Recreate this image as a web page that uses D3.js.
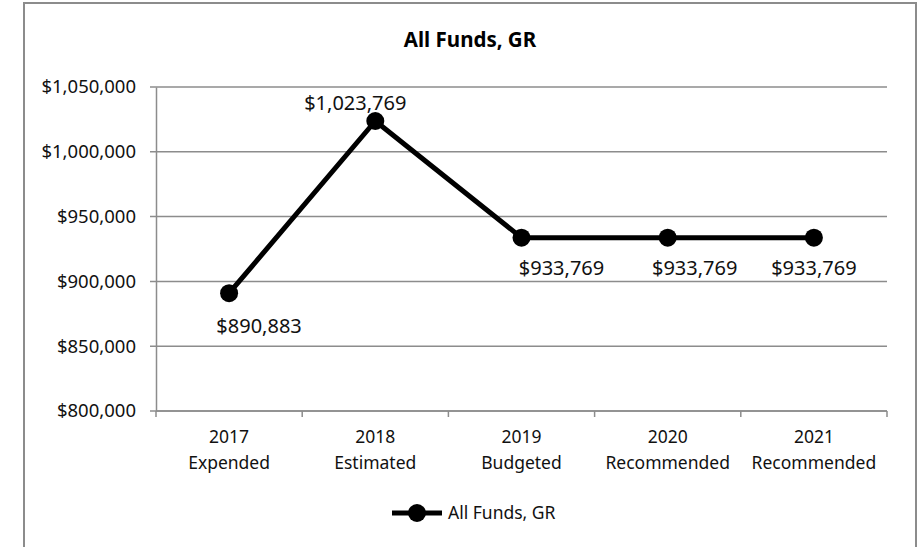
<!DOCTYPE html>
<html>
<head>
<meta charset="utf-8">
<script src="https://cdn.jsdelivr.net/npm/d3@7"></script>
<style>
  body { margin: 0; background: #fff; }
  svg { display: block; font-family: "Noto Sans", "Open Sans", sans-serif; }
</style>
</head>
<body>
<svg id="chart" width="924" height="547"></svg>
<script>
const years = ["2017", "2018", "2019", "2020", "2021"];
const stages = ["Expended", "Estimated", "Budgeted", "Recommended", "Recommended"];
const values = [890883, 1023769, 933769, 933769, 933769];
const yTicks = [800000, 850000, 900000, 950000, 1000000, 1050000];
const seriesName = "All Funds, GR";

const svg = d3.select("#chart");
const margin = { left: 156, right: 887, top: 87, bottom: 411 };

// outer chart border (bottom runs off the picture)
svg.append("rect")
  .attr("x", 24).attr("y", 3)
  .attr("width", 892).attr("height", 570)
  .attr("fill", "none")
  .attr("stroke", "#8c8c8c")
  .attr("stroke-width", 2);

svg.append("text")
  .attr("x", 470).attr("y", 47)
  .attr("text-anchor", "middle")
  .style("font-size", "20.5px")
  .style("font-weight", "bold")
  .text(seriesName);

const x = d3.scaleBand().domain(d3.range(years.length)).range([margin.left, margin.right]);
const y = d3.scaleLinear().domain([800000, 1050000]).range([margin.bottom, margin.top]);
const fmt = d3.format("$,");

// gridlines
svg.append("g")
  .selectAll("line")
  .data(yTicks)
  .join("line")
  .attr("x1", margin.left - 6).attr("x2", margin.right)
  .attr("y1", d => y(d)).attr("y2", d => y(d))
  .attr("stroke", "#8c8c8c")
  .attr("stroke-width", 1.5);

// y axis
const yAxis = svg.append("g")
  .attr("transform", `translate(${margin.left},0)`)
  .call(d3.axisLeft(y).tickValues(yTicks).tickFormat(fmt).tickSize(0).tickPadding(20))
  .attr("font-family", null)
  .attr("font-size", null);
yAxis.select(".domain").attr("stroke", "#8c8c8c").attr("stroke-width", 1.5);
yAxis.selectAll("text").style("font-size", "18.5px").attr("fill", "#111");

// x axis with ticks at band edges
const xAxis = svg.append("g").attr("transform", `translate(0,${margin.bottom})`);
xAxis.append("line")
  .attr("x1", margin.left).attr("x2", margin.right)
  .attr("stroke", "#8c8c8c").attr("stroke-width", 1.5);
xAxis.selectAll(".edge")
  .data(d3.range(years.length + 1))
  .join("line")
  .attr("class", "edge")
  .attr("x1", i => i < years.length ? x(i) : x(years.length - 1) + x.bandwidth())
  .attr("x2", i => i < years.length ? x(i) : x(years.length - 1) + x.bandwidth())
  .attr("y1", 0).attr("y2", 6)
  .attr("stroke", "#8c8c8c").attr("stroke-width", 1.5);

const cat = xAxis.selectAll(".cat")
  .data(years)
  .join("text")
  .attr("class", "cat")
  .attr("text-anchor", "middle")
  .style("font-size", "17.5px")
  .attr("fill", "#111");
cat.append("tspan")
  .attr("x", (d, i) => x(i) + x.bandwidth() / 2)
  .attr("y", 32)
  .text(d => d);
cat.append("tspan")
  .attr("x", (d, i) => x(i) + x.bandwidth() / 2)
  .attr("y", 58)
  .text((d, i) => stages[i]);

// series line
const cx = i => x(i) + x.bandwidth() / 2;
svg.append("path")
  .datum(values)
  .attr("fill", "none")
  .attr("stroke", "#000")
  .attr("stroke-width", 5)
  .attr("stroke-linejoin", "round")
  .attr("d", d3.line().x((d, i) => cx(i)).y(d => y(d)));

svg.append("g")
  .selectAll("circle")
  .data(values)
  .join("circle")
  .attr("cx", (d, i) => cx(i))
  .attr("cy", d => y(d))
  .attr("r", 9)
  .attr("fill", "#000");

// data labels, nudged like the original
const labelNudge = [[30, 40], [-20, -11], [40, 37], [27, 37], [0, 37]];
svg.append("g")
  .selectAll("text")
  .data(values)
  .join("text")
  .attr("x", (d, i) => cx(i) + labelNudge[i][0])
  .attr("y", (d, i) => y(d) + labelNudge[i][1])
  .attr("text-anchor", "middle")
  .style("font-size", "20px")
  .attr("fill", "#111")
  .text(d => fmt(d));

// legend
const lg = svg.append("g").attr("transform", "translate(392,513)");
lg.append("line").attr("x1", 0).attr("x2", 50).attr("stroke", "#000").attr("stroke-width", 5);
lg.append("circle").attr("cx", 25).attr("r", 9).attr("fill", "#000");
lg.append("text")
  .attr("x", 56).attr("dy", "0.35em")
  .style("font-size", "17.5px")
  .attr("fill", "#111")
  .text(seriesName);
</script>
</body>
</html>
